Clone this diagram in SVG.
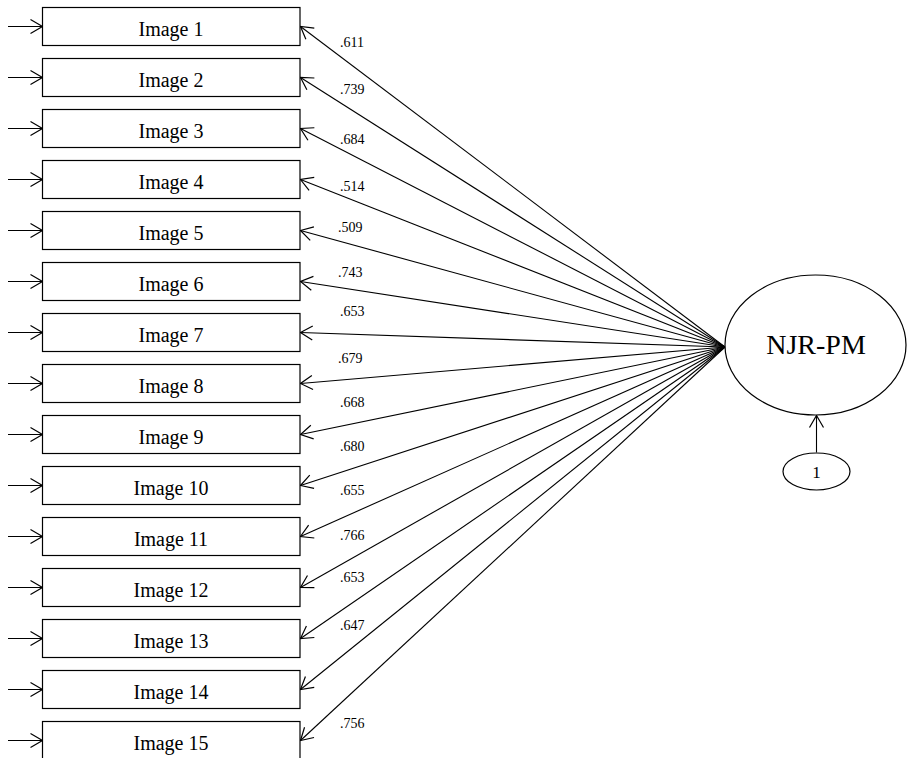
<svg xmlns="http://www.w3.org/2000/svg" width="908" height="758" viewBox="0 0 908 758">
<defs>
<marker id="ah" markerUnits="userSpaceOnUse" markerWidth="16" markerHeight="18" refX="12" refY="7" orient="auto" overflow="visible">
<path d="M0,0 L12,7 L0,14" fill="none" stroke="#000" stroke-width="1.2"/>
</marker>
<style>
.box{fill:#fff;stroke:#000;stroke-width:1.2}
.lbl{font-family:"Liberation Serif","Times New Roman",serif;font-size:20px;text-anchor:middle;fill:#000}
.coef{font-family:"Liberation Serif","Times New Roman",serif;font-size:14px;fill:#000}
.ln{fill:none;stroke:#000;stroke-width:1.1;marker-end:url(#ah)}
</style>
</defs>
<rect width="908" height="758" fill="#fff"/>
<g id="connectors">
<line class="ln" x1="8" y1="26.5" x2="42.5" y2="26.5"/>
<line class="ln" x1="8" y1="77.5" x2="42.5" y2="77.5"/>
<line class="ln" x1="8" y1="128.5" x2="42.5" y2="128.5"/>
<line class="ln" x1="8" y1="179.5" x2="42.5" y2="179.5"/>
<line class="ln" x1="8" y1="230.5" x2="42.5" y2="230.5"/>
<line class="ln" x1="8" y1="281.5" x2="42.5" y2="281.5"/>
<line class="ln" x1="8" y1="332.5" x2="42.5" y2="332.5"/>
<line class="ln" x1="8" y1="383.5" x2="42.5" y2="383.5"/>
<line class="ln" x1="8" y1="434.5" x2="42.5" y2="434.5"/>
<line class="ln" x1="8" y1="485.5" x2="42.5" y2="485.5"/>
<line class="ln" x1="8" y1="536.5" x2="42.5" y2="536.5"/>
<line class="ln" x1="8" y1="587.5" x2="42.5" y2="587.5"/>
<line class="ln" x1="8" y1="638.5" x2="42.5" y2="638.5"/>
<line class="ln" x1="8" y1="689.5" x2="42.5" y2="689.5"/>
<line class="ln" x1="8" y1="740.5" x2="42.5" y2="740.5"/>
<line class="ln" x1="725" y1="347" x2="300.5" y2="26.5"/>
<line class="ln" x1="725" y1="347" x2="300.5" y2="77.5"/>
<line class="ln" x1="725" y1="347" x2="300.5" y2="128.5"/>
<line class="ln" x1="725" y1="347" x2="300.5" y2="179.5"/>
<line class="ln" x1="725" y1="347" x2="300.5" y2="230.5"/>
<line class="ln" x1="725" y1="347" x2="300.5" y2="281.5"/>
<line class="ln" x1="725" y1="347" x2="300.5" y2="332.5"/>
<line class="ln" x1="725" y1="347" x2="300.5" y2="383.5"/>
<line class="ln" x1="725" y1="347" x2="300.5" y2="434.5"/>
<line class="ln" x1="725" y1="347" x2="300.5" y2="485.5"/>
<line class="ln" x1="725" y1="347" x2="300.5" y2="536.5"/>
<line class="ln" x1="725" y1="347" x2="300.5" y2="587.5"/>
<line class="ln" x1="725" y1="347" x2="300.5" y2="638.5"/>
<line class="ln" x1="725" y1="347" x2="300.5" y2="689.5"/>
<line class="ln" x1="725" y1="347" x2="300.5" y2="740.5"/>
<line class="ln" x1="816.5" y1="452.5" x2="816.5" y2="415.5"/>
<text class="coef" x="340" y="47">.611</text>
<text class="coef" x="340" y="94">.739</text>
<text class="coef" x="340" y="144">.684</text>
<text class="coef" x="340" y="191">.514</text>
<text class="coef" x="338" y="232">.509</text>
<text class="coef" x="338" y="277">.743</text>
<text class="coef" x="340" y="316">.653</text>
<text class="coef" x="338" y="363">.679</text>
<text class="coef" x="340" y="407">.668</text>
<text class="coef" x="340" y="451">.680</text>
<text class="coef" x="340" y="495">.655</text>
<text class="coef" x="340" y="540">.766</text>
<text class="coef" x="340" y="582">.653</text>
<text class="coef" x="340" y="630">.647</text>
<text class="coef" x="340" y="728">.756</text>
</g>
<g id="img1"><rect class="box" x="42.5" y="7.5" width="257.5" height="38"/><text class="lbl" x="171" y="36">Image 1</text></g>
<g id="img2"><rect class="box" x="42.5" y="58.5" width="257.5" height="38"/><text class="lbl" x="171" y="87">Image 2</text></g>
<g id="img3"><rect class="box" x="42.5" y="109.5" width="257.5" height="38"/><text class="lbl" x="171" y="138">Image 3</text></g>
<g id="img4"><rect class="box" x="42.5" y="160.5" width="257.5" height="38"/><text class="lbl" x="171" y="189">Image 4</text></g>
<g id="img5"><rect class="box" x="42.5" y="211.5" width="257.5" height="38"/><text class="lbl" x="171" y="240">Image 5</text></g>
<g id="img6"><rect class="box" x="42.5" y="262.5" width="257.5" height="38"/><text class="lbl" x="171" y="291">Image 6</text></g>
<g id="img7"><rect class="box" x="42.5" y="313.5" width="257.5" height="38"/><text class="lbl" x="171" y="342">Image 7</text></g>
<g id="img8"><rect class="box" x="42.5" y="364.5" width="257.5" height="38"/><text class="lbl" x="171" y="393">Image 8</text></g>
<g id="img9"><rect class="box" x="42.5" y="415.5" width="257.5" height="38"/><text class="lbl" x="171" y="444">Image 9</text></g>
<g id="img10"><rect class="box" x="42.5" y="466.5" width="257.5" height="38"/><text class="lbl" x="171" y="495">Image 10</text></g>
<g id="img11"><rect class="box" x="42.5" y="517.5" width="257.5" height="38"/><text class="lbl" x="171" y="546">Image 11</text></g>
<g id="img12"><rect class="box" x="42.5" y="568.5" width="257.5" height="38"/><text class="lbl" x="171" y="597">Image 12</text></g>
<g id="img13"><rect class="box" x="42.5" y="619.5" width="257.5" height="38"/><text class="lbl" x="171" y="648">Image 13</text></g>
<g id="img14"><rect class="box" x="42.5" y="670.5" width="257.5" height="38"/><text class="lbl" x="171" y="699">Image 14</text></g>
<g id="img15"><rect class="box" x="42.5" y="721.5" width="257.5" height="38"/><text class="lbl" x="171" y="750">Image 15</text></g>
<g id="njrpm"><ellipse cx="815.5" cy="345" rx="90.5" ry="70" fill="#fff" stroke="#000" stroke-width="1.2"/><text x="816" y="354" style="font-family:'Liberation Serif','Times New Roman',serif;font-size:28px;text-anchor:middle">NJR-PM</text></g>
<g id="err1"><ellipse cx="816.5" cy="471.5" rx="33.5" ry="18.5" fill="#fff" stroke="#000" stroke-width="1.2"/><text x="816.5" y="477.5" style="font-family:'Liberation Serif','Times New Roman',serif;font-size:17px;text-anchor:middle">1</text></g>
</svg>
